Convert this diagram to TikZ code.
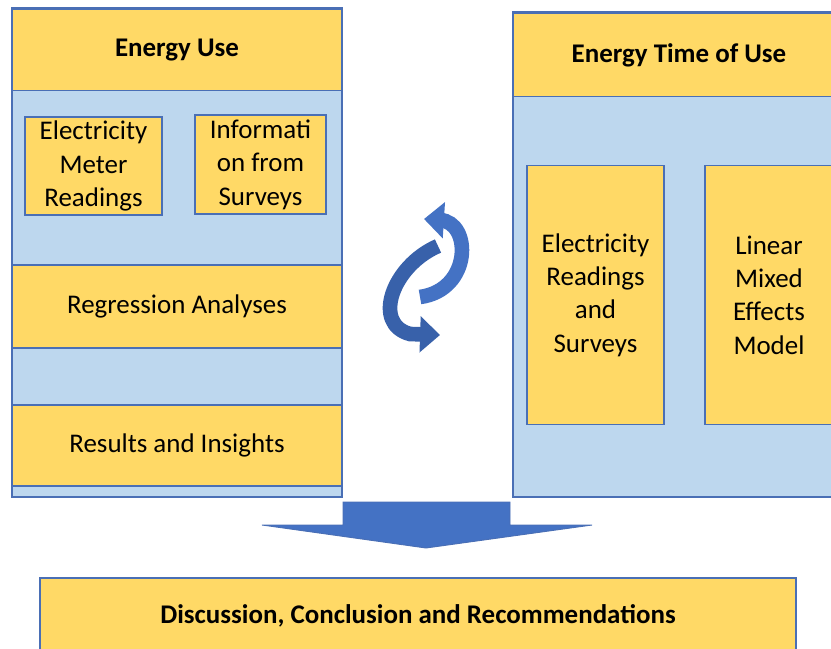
\documentclass[tikz,border=0pt]{standalone}
\usepackage{fontspec}
\setmainfont{Carlito}
\usepackage{tikz}
\usetikzlibrary{arrows.meta}
\definecolor{boxyellow}{HTML}{FFD966}
\definecolor{panelblue}{HTML}{BDD7EE}
\definecolor{edgeblue}{HTML}{4A6FB5}
\definecolor{arrowblue}{HTML}{4472C4}
\definecolor{ribbondark}{HTML}{3861AA}
\tikzset{
    panel/.style={draw=edgeblue, fill=panelblue, line width=1pt, inner sep=0pt},
    stage/.style={draw=edgeblue, fill=boxyellow, line width=1pt, align=center, inner sep=0pt,
        font=\fontsize{23}{28.5}\selectfont},
    heading/.style={stage, font=\fontsize{23}{28.5}\selectfont\bfseries},
    ribbon/.style={line width=12.5pt, -{Triangle[width=30pt, length=17pt]}}
}

\begin{document}
\begin{tikzpicture}[x=0.03cm, y=-0.03cm]
            \useasboundingbox (0,0) rectangle (831,649);

            % 1. Energy Use
            \node[panel, minimum width=9.9cm, minimum height=14.67cm] (usepanel) at (177,252.5) {};
            \node[heading, minimum width=9.9cm, minimum height=2.43cm] (usehead) at (177,50) {Energy Use};
            \node[stage, minimum width=4.11cm, minimum height=2.94cm] (meter) at (93.5,166) {Electricity\\Meter\\Readings};
            \node[stage, minimum width=3.93cm, minimum height=2.97cm] (survey) at (260.5,164.5) {Informati\\on from\\Surveys};
            \node[stage, minimum width=9.9cm, minimum height=2.49cm] (regress) at (177,306.5) {Regression Analyses};
            \node[stage, minimum width=9.9cm, minimum height=2.43cm] (insight) at (177,445.5) {Results and Insights};

            % 2. Energy Time of Use
            \node[panel, minimum width=9.96cm, minimum height=14.55cm] (toupanel) at (679,254.5) {};
            \node[heading, minimum width=9.96cm, minimum height=2.49cm] (touhead) at (679,55) {Energy Time of Use};
            \node[stage, minimum width=4.11cm, minimum height=7.77cm] (readings) at (595.5,295) {Electricity\\Readings\\and\\Surveys};
            \node[stage, minimum width=3.84cm, minimum height=7.77cm] (mixed) at (769,295) {Linear\\Mixed\\Effects\\Model};

            % 3. Cycle between the two
            \draw[ribbon, ribbondark] (438,246) .. controls (392,266) and (372,324) .. (410,334) -- (440,335);
            \draw[ribbon, arrowblue] (420,297) .. controls (472,290) and (472,222) .. (440,220) -- (424,219);

            % 4. Down arrow and final stage
            \draw[edgeblue, fill=arrowblue, line width=0.8pt] (343,502) -- (510,502) -- (510,525) -- (592,525)
                -- (426,548) -- (262,525) -- (343,525) -- cycle;
            \node[heading, minimum width=22.68cm, minimum height=2.28cm] (discuss) at (418,616) {Discussion, Conclusion and Recommendations};
        \end{tikzpicture}
\end{document}
